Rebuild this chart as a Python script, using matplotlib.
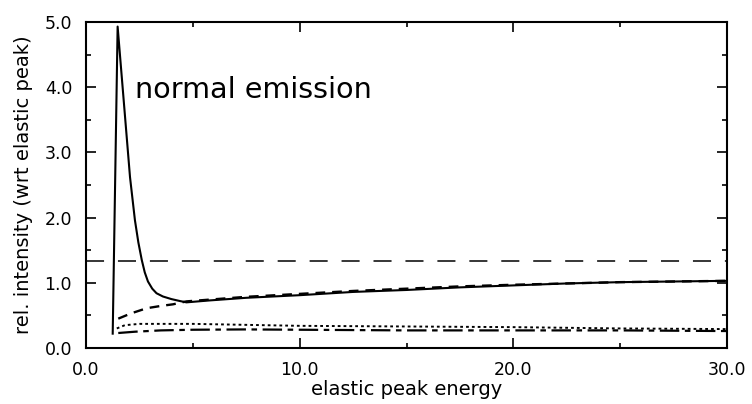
import matplotlib
matplotlib.use("Agg")
import matplotlib.pyplot as plt
from matplotlib.ticker import MultipleLocator, FormatStrFormatter

plt.rcParams['font.family'] = ['DejaVu Sans']
plt.rcParams['lines.scale_dashes'] = False

# ---- data ----
solid_x = [1.25, 1.48, 2.06, 2.29, 2.45, 2.61, 2.75, 2.9, 3.1, 3.3, 3.6, 4.0, 4.4, 4.7,
           5.8, 7.5, 10, 12.5, 15, 17.5, 20, 22.5, 25, 27.5, 30]
solid_y = [0.22, 4.93, 2.62, 1.96, 1.62, 1.35, 1.16, 1.02, 0.91, 0.84, 0.79, 0.75, 0.72, 0.70,
           0.73, 0.77, 0.81, 0.86, 0.89, 0.93, 0.96, 0.99, 1.01, 1.02, 1.03]

dashed_x = [1.51, 2.1, 2.84, 3.5, 4.07, 4.7, 7.5, 10, 12.5, 15, 17.5, 20, 22.5, 25, 27.5, 30]
dashed_y = [0.45, 0.53, 0.61, 0.645, 0.67, 0.715, 0.785, 0.83, 0.875, 0.91, 0.945, 0.97,
            0.99, 1.01, 1.02, 1.03]

dotted_x = [1.44, 1.82, 2.5, 5, 7.5, 10, 15, 20, 25, 30]
dotted_y = [0.30, 0.35, 0.37, 0.37, 0.355, 0.34, 0.33, 0.32, 0.30, 0.29]

dashdot_x = [1.51, 2.3, 3.5, 5, 7.5, 10, 15, 20, 25, 30]
dashdot_y = [0.23, 0.25, 0.27, 0.28, 0.285, 0.28, 0.27, 0.27, 0.27, 0.26]

reference_level = 1.34

x_ticks = [0, 10, 20, 30]
y_ticks = [0, 1, 2, 3, 4, 5]

fig = plt.figure(figsize=(7.52, 4.04), dpi=100)
ax = fig.add_axes([86/752, 1-348/404, (727-86)/752, (348-22)/404])

ax.plot(solid_x, solid_y, color='black', lw=1.5)
ax.plot(dashed_x, dashed_y, color='black', lw=1.7, dashes=(7, 5))
ax.plot(dotted_x, dotted_y, color='black', lw=1.4, dashes=(2, 2.2))
ax.plot(dashdot_x, dashdot_y, color='black', lw=1.6, dashes=(14, 4, 4, 4))
ax.axhline(reference_level, color='black', lw=1.1, dashes=(13, 10))

ax.set_xlim(0, 30)
ax.set_ylim(0, 5)
ax.set_xticks(x_ticks)
ax.set_yticks(y_ticks)
ax.xaxis.set_minor_locator(MultipleLocator(5))
ax.yaxis.set_minor_locator(MultipleLocator(0.5))
ax.xaxis.set_major_formatter(FormatStrFormatter('%.1f'))
ax.yaxis.set_major_formatter(FormatStrFormatter('%.1f'))

ax.tick_params(which='both', direction='in', top=True, right=True, width=1.2,
               labelsize=12.5, colors='black')
ax.tick_params(which='major', length=7.5)
ax.tick_params(which='minor', length=3.5)
ax.tick_params(axis='x', which='major', pad=9.5)
ax.tick_params(axis='y', which='major', pad=10)

for s in ax.spines.values():
    s.set_linewidth(1.5)

ax.set_xlabel('elastic peak energy', fontsize=14)
ax.xaxis.set_label_coords(0.5, -0.098)
ax.set_ylabel('rel. intensity (wrt elastic peak)', fontsize=14)
ax.yaxis.set_label_coords(-0.083, 0.5)

ax.text(2.29, 3.83, 'normal emission', fontsize=20.6, ha='left', va='baseline')

fig.savefig('out.png', dpi=100)
